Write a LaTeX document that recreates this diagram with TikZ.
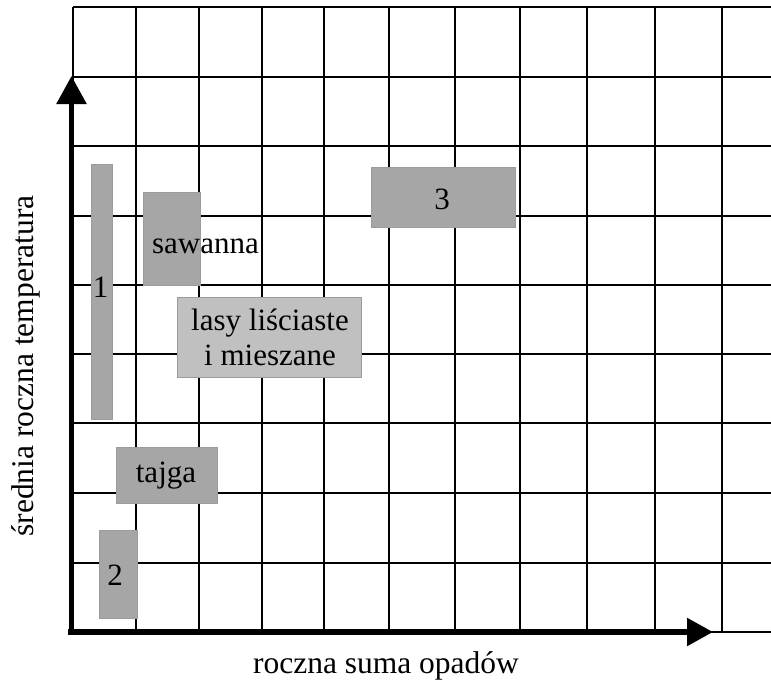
\documentclass[tikz,border=0pt]{standalone}
\usepackage{fontspec}
\setmainfont{Liberation Serif}
\usetikzlibrary{arrows.meta}
\definecolor{boxdark}{HTML}{A6A6A6}
\definecolor{boxlight}{HTML}{C0C0C0}
\definecolor{boxedge}{HTML}{9C9C9C}
\begin{document}
\begin{tikzpicture}[x=1pt,y=-1pt,
  gridline/.style={line width=1.3pt,black},
  axisline/.style={line width=5.5pt,black},
  greybox/.style={rectangle,fill=boxdark,draw=boxedge,line width=0.8pt,inner sep=0pt,anchor=north west},
  lightbox/.style={greybox,fill=boxlight},
  lbl/.style={font=\fontsize{31}{36}\selectfont,inner sep=0pt,anchor=base},
  axlbl/.style={lbl,font=\fontsize{31.5}{36}\selectfont}
]
\useasboundingbox (0,0) rectangle (771,683);
% grid
\foreach \x in {73,136,199,262,324,389,455,520,587,655,722}
  \draw[gridline] (\x,7) -- (\x,632);
\foreach \y in {7,77,146,216,285,354,423,493,563,632}
  \draw[gridline] (73,\y) -- (771,\y);
% axes
\coordinate (o) at (71.5,634.5);
\coordinate (ytip) at (71.5,76);
\coordinate (xo) at (68,632);
\coordinate (xtip) at (713,632);
\draw[axisline,-{Triangle[width=29pt,length=28pt]}] (o) -- (ytip);
\draw[axisline,-{Triangle[width=27pt,length=26pt]}] (xo) -- (xtip);
% boxes
\node[greybox,minimum width=21pt,minimum height=255pt] (b1) at (91,164) {};
\node[greybox,minimum width=57pt,minimum height=93pt] (bsav) at (143,192) {};
\node[lightbox,minimum width=184pt,minimum height=80pt] (blasy) at (177,297) {};
\node[greybox,minimum width=144pt,minimum height=60pt] (b3) at (371,167) {};
\node[greybox,minimum width=101pt,minimum height=56pt] (btaj) at (116,447) {};
\node[greybox,minimum width=38pt,minimum height=88pt] (b2) at (99,530) {};
% labels
\node[lbl] (t1) at (100.5,297) {1};
\node[lbl] (tsav) at (205.5,253) {sawanna};
\node[lbl] (tlasy1) at (270,330) {lasy liściaste};
\node[lbl] (tlasy2) at (270,365) {i mieszane};
\node[lbl] (t3) at (442,209) {3};
\node[lbl] (ttaj) at (166,482) {tajga};
\node[lbl] (t2) at (115,585) {2};
\node[axlbl] (xlab) at (386,673) {roczna suma opadów};
\node[axlbl,rotate=90] (ylab) at (33,366) {średnia roczna temperatura};
\end{tikzpicture}
\end{document}
